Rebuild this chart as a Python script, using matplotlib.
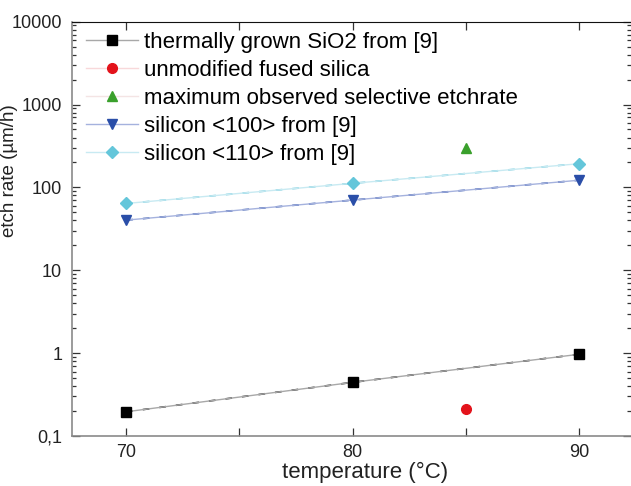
import matplotlib.pyplot as plt
from matplotlib.ticker import FixedLocator, FixedFormatter, LogLocator, NullFormatter

plt.rcParams["font.family"] = ["Liberation Sans", "DejaVu Sans"]

# etch rate data (µm/h) vs temperature (°C)
temp_sio2 = [70, 80, 90]
rate_sio2 = [0.196, 0.444, 0.968]
temp_fused = [85]
rate_fused = [0.213]
temp_max = [85]
rate_max = [295]
temp_si100 = [70, 80, 90]
rate_si100 = [40.3, 70.3, 122]
temp_si110 = [70, 80, 90]
rate_si110 = [64, 112, 193]

x_ticks = [70, 75, 80, 85, 90]
x_labels = ["70", "", "80", "", "90"]
y_ticks = [0.1, 1, 10, 100, 1000, 10000]
y_labels = ["0,1", "1", "10", "100", "1000", "10000"]

fig = plt.figure(figsize=(6.31, 4.86), dpi=100)
ax = fig.add_axes([0.114, 0.1029, 0.886, 0.8525])

# series: light solid line with markers (also used for the legend), darker dashes on top
series = [
    (temp_sio2, rate_sio2, "s", "black", "#a8a8a8", "#222222", 6.5, "thermally grown SiO2 from [9]"),
    (temp_fused, rate_fused, "o", "#e3131b", "#f8d8da", None, 7, "unmodified fused silica"),
    (temp_max, rate_max, "^", "#3aa02c", "#f4e4e4", None, 6.5, "maximum observed selective etchrate"),
    (temp_si100, rate_si100, "v", "#2a4ea8", "#a5b2de", "#2a4ea8", 7, "silicon <100> from [9]"),
    (temp_si110, rate_si110, "D", "#64c6da", "#c8eaf2", "#64c6da", 6.5, "silicon <110> from [9]"),
]

for xs, ys, mk, mc, light, dark, ms, label in series:
    ax.plot(xs, ys, color=light, lw=1.0, marker=mk, markersize=ms,
            markerfacecolor=mc, markeredgecolor=mc, label=label, zorder=3)
    if dark is not None:
        ax.plot(xs, ys, color=dark, lw=1.2, dashes=(4, 6), zorder=2)

ax.set_yscale("log")
ax.set_xlim(67.6, 92.3)
ax.set_ylim(0.1, 10000)

ax.xaxis.set_major_locator(FixedLocator(x_ticks))
ax.xaxis.set_major_formatter(FixedFormatter(x_labels))
ax.yaxis.set_major_locator(FixedLocator(y_ticks))
ax.yaxis.set_major_formatter(FixedFormatter(y_labels))
ax.yaxis.set_minor_locator(LogLocator(base=10, subs=range(2, 10)))
ax.yaxis.set_minor_formatter(NullFormatter())

ax.tick_params(which="both", direction="in", top=True, right=True,
               colors="#333333", labelcolor="#222222", width=0.9)
ax.tick_params(which="major", length=5.5, labelsize=13, pad=6)
ax.tick_params(axis="y", which="major", pad=7)
ax.tick_params(which="minor", length=3)

for side in ["left", "bottom"]:
    ax.spines[side].set_color("#8a8a8a")
    ax.spines[side].set_linewidth(1.2)
ax.spines["top"].set_color("#111111")
ax.spines["right"].set_visible(False)

ax.set_xlabel("temperature (°C)", fontsize=16, color="#222222")
ax.xaxis.set_label_coords(0.524, -0.062, transform=ax.transAxes)
ax.set_ylabel("etch rate (µm/h)", fontsize=13.5, color="#222222")
ax.yaxis.set_label_coords(-0.097, 0.64, transform=ax.transAxes)

ax.legend(loc="upper left", bbox_to_anchor=(0.026, 0.975), frameon=False,
          fontsize=16, numpoints=1, handlelength=2.3, handletextpad=0.3,
          labelspacing=0.31, borderpad=0, borderaxespad=0)

fig.savefig("out.png", dpi=100)
